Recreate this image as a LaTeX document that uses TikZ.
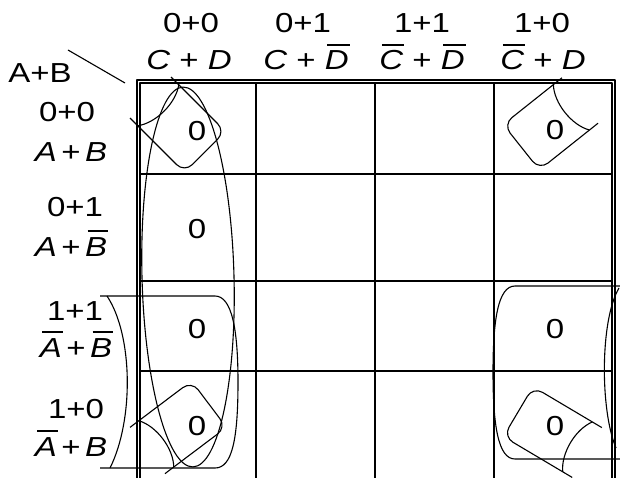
\documentclass[tikz,border=0pt]{standalone}
\usepackage{fontspec}
\setmainfont{Liberation Sans}[FakeStretch=1.2]
\usepackage{tikz}
\usetikzlibrary{calc}
\newcommand{\pv}[1]{\textit{#1}}
\newcommand{\nv}[1]{\setbox0\hbox{\textit{#1}}\leavevmode\vbox{\offinterlineskip\hbox to \wd0{\kern 2.5pt\vrule height 1.6pt width \dimexpr\wd0-1.5pt\relax\hss}\kern 5.2pt\box0}}
\tikzset{
	lbl/.style={font=\fontsize{27.5}{30}\selectfont, inner sep=0pt, anchor=base},
	zcell/.style={font=\fontsize{27.5}{30}\selectfont, inner sep=0pt, anchor=base},
	kl/.style={line width=1.1pt, line join=round},
	% wrap-around loop helper
	loopline/.style={line width=1.1pt, rounded corners=11pt},
}

\begin{document}
\begin{tikzpicture}[x=1pt, y=-1pt]
	\useasboundingbox (0,0) rectangle (620,478);
	\clip (0,0) rectangle (620,478);
	\draw[kl] (137,80) rectangle (615,492);
	\draw[kl] (140,83) rectangle (612,489);
	\foreach \x in {256,375,494} {
		\draw[kl] (\x,83) -- (\x,489);
	}
	\foreach \y in {174,281,371} {
		\draw[kl] (140,\y) -- (612,\y);
	}
	\draw[kl] (68,50) -- (125,83);
	\node[lbl] (ab) at (40,83) {A+B};
	\foreach \n/\hd/\vr/\xa/\xb in {0/0+0/{\pv{C} + \pv{D}}/191/189, 1/0+1/{\pv{C} + \nv{D}}/303/306, 2/1+1/{\nv{C} + \nv{D}}/422/422, 3/1+0/{\nv{C} + \pv{D}}/542/543} {
		\node[lbl] (ct\n) at (\xa,33) {\hd};
		\node[lbl] (cb\n) at (\xb,70) {\vr};
	}
	\foreach \n/\hd/\vr/\xa/\xb/\ya/\yb in {0/0+0/{\pv{A}\,+\,\pv{B}}/67/71/122/162, 1/0+1/{\pv{A}\,+\,\nv{B}}/75/71/217/256, 2/1+1/{\nv{A}\,+\,\nv{B}}/75/76/320/357, 3/1+0/{\nv{A}\,+\,\pv{B}}/76/71/418/456} {
		\node[lbl] (rt\n) at (\xa,\ya) {\hd};
		\node[lbl] (rb\n) at (\xb,\yb) {\vr};
	}
	\foreach \n/\x/\y in {00/197/141, 10/197/238, 20/197/338, 30/197/435, 03/555/140, 23/555/338, 33/555/435} {
		\node[zcell] (z\n) at (\x,\y) {0};
	}
	% column 0 loop
	\draw[kl, rotate around={1.5:(188,277)}] (188,277) ellipse [x radius=46pt, y radius=190pt];
	% corner loops
	\foreach \cx/\cy/\ang/\len in {150.5/97.5/-45/77, 580/100.5/-141.5/75, 147.5/450.5/37/77, 587/452.5/149.3/80} {
		\begin{scope}[shift={(\cx,\cy)}, rotate=\ang]
			\draw[loopline] (0,-29) -- (\len,-29) -- (\len,29) -- (0,29);
			\draw[kl] (11,-29) .. controls (22,-14) and (22,14) .. (11,29);
		\end{scope}
	}
	% rows 2 and 3 wrap-around
	\draw[kl] (100,296) -- (215,296) .. controls (232,296) and (238,330) .. (238,382) .. controls (238,440) and (232,468) .. (215,468) -- (100,468);
	\draw[kl] (107,296) .. controls (133,335) and (134,420) .. (110,468);
	\draw[kl] (620,286) -- (515,286) .. controls (498,286) and (493,320) .. (493,372) .. controls (493,425) and (498,459) .. (515,459) -- (620,459);
	\draw[kl] (619,288) .. controls (600,320) and (600,410) .. (616,448);
\end{tikzpicture}
\end{document}
